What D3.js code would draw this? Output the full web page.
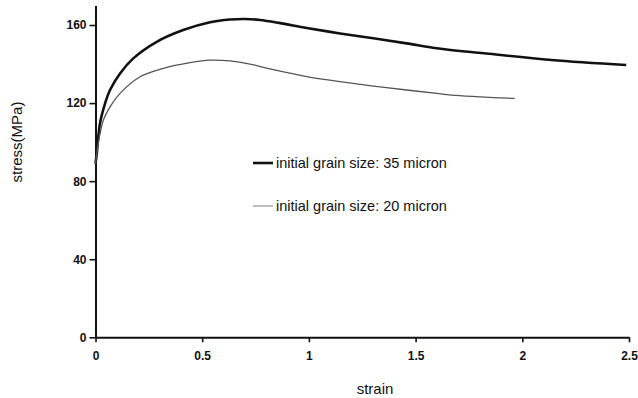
<!DOCTYPE html>
<html>
<head>
<meta charset="utf-8">
<script src="https://cdn.jsdelivr.net/npm/d3@7"></script>
<style>
  body { margin: 0; background: #fff; }
  svg { display: block; font-family: "Liberation Sans", Arial, sans-serif; }
</style>
</head>
<body>
<svg id="chart" width="638" height="398"></svg>
<script>
// stress-strain curves, values
const strain35 = [0, 0.006, 0.021, 0.045, 0.068, 0.115, 0.177, 0.287, 0.411, 0.537, 0.63, 0.7, 0.77, 0.86, 0.99, 1.146, 1.302, 1.458, 1.599, 1.82, 2.136, 2.487];
const stress35 = [89, 94.3, 109.6, 119.9, 126.7, 135.2, 142.9, 151.4, 157.4, 161.4, 162.8, 163.1, 162.6, 161.1, 158.5, 155.7, 153.2, 150.6, 148.1, 145.5, 142.1, 139.5];

const strain20 = [0, 0.013, 0.037, 0.068, 0.115, 0.209, 0.318, 0.443, 0.537, 0.63, 0.724, 0.833, 0.99, 1.146, 1.302, 1.458, 1.599, 1.667, 1.964];
const stress20 = [89, 99.4, 111.3, 118.1, 125, 133.5, 137.8, 140.7, 142, 141.6, 140, 137.1, 133.6, 131, 128.7, 126.7, 125, 124.1, 122.4];

const legendLabels = ["initial grain size: 35 micron", "initial grain size: 20 micron"];
const xTicks = [0, 0.5, 1, 1.5, 2, 2.5];
const yTicks = [0, 40, 80, 120, 160];

const svg = d3.select("#chart");
const x = d3.scaleLinear().domain([0, 2.5]).range([95.5, 629]);
const y = d3.scaleLinear().domain([0, 170]).range([337.3, 5.5]);

// axes
const xAxis = svg.append("g").attr("transform", "translate(0," + y(0) + ")")
  .call(d3.axisBottom(x).tickValues(xTicks).tickFormat(d3.format("")).tickSize(5).tickSizeOuter(0));
const yAxis = svg.append("g").attr("transform", "translate(" + x(0) + ",0)")
  .call(d3.axisLeft(y).tickValues(yTicks).tickSize(6).tickSizeOuter(0));

[xAxis, yAxis].forEach(a => {
  a.select(".domain").attr("stroke", "#111").attr("stroke-width", 2);
  a.selectAll(".tick line").attr("stroke", "#111").attr("stroke-width", 1.6);
  a.selectAll(".tick text").attr("fill", "#111").style("font-size", "12px")
    .style("font-weight", "bold").style("font-family", "'Liberation Sans', Arial, sans-serif");
});
xAxis.selectAll(".tick text").attr("dy", "1.25em");
yAxis.selectAll(".tick text").attr("x", -9);

// axis titles
svg.append("text").attr("x", 375).attr("y", 394).attr("text-anchor", "middle")
  .style("font-size", "15px").attr("fill", "#111").text("strain");
svg.append("text").attr("transform", "translate(22,142) rotate(-90)").attr("text-anchor", "middle")
  .style("font-size", "15px").attr("fill", "#111").text("stress(MPa)");

// curves
const line = d3.line().x(d => x(d[0])).y(d => y(d[1])).curve(d3.curveCatmullRom.alpha(0.5));
const series = [
  { pts: d3.zip(strain35, stress35), colour: "#111", width: 2.6 },
  { pts: d3.zip(strain20, stress20), colour: "#555", width: 1.3 }
];
series.forEach(s => {
  svg.append("path").attr("d", line(s.pts)).attr("fill", "none")
    .attr("stroke", s.colour).attr("stroke-width", s.width).attr("stroke-linejoin", "round");
});

// legend
const legendY = [163, 206];
series.forEach((s, i) => {
  svg.append("line").attr("x1", 253).attr("x2", 273).attr("y1", legendY[i]).attr("y2", legendY[i])
    .attr("stroke", i === 0 ? s.colour : "#9a9a9a").attr("stroke-width", s.width);
  svg.append("text").attr("x", 276).attr("y", legendY[i] + 5).style("font-size", "14.5px")
    .attr("fill", "#111").text(legendLabels[i]);
});
</script>
</body>
</html>
